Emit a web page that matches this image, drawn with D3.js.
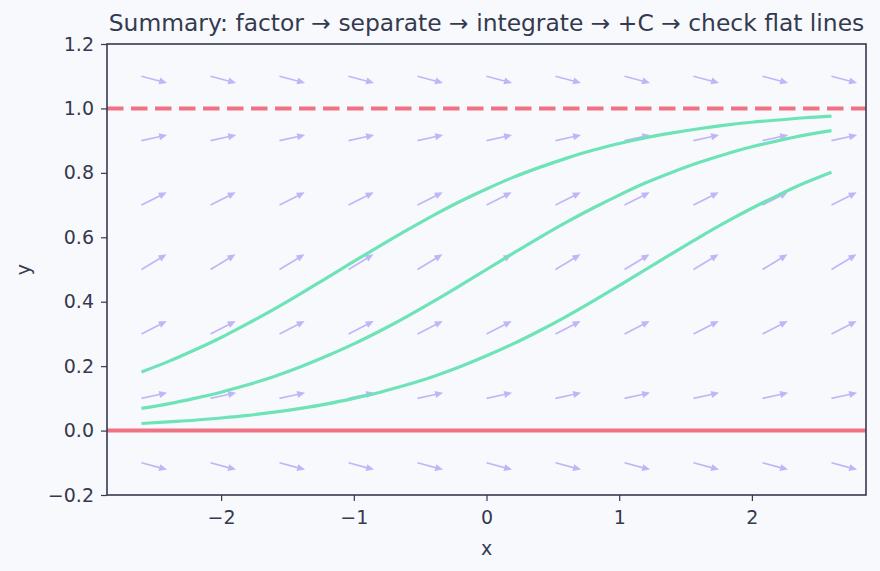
<!DOCTYPE html>
<html>

<head>
    <meta charset="utf-8">
    <title>Logistic slope field</title>
    <script src="https://d3js.org/d3.v7.min.js"></script>
    <style>
        body { margin: 0; background: #f8f9fd; }
        text { font-family: "DejaVu Sans", sans-serif; fill: #343a4f; }
    </style>
</head>

<body>
    <div id='view'></div>

    <script>
        var width = 880;
        var height = 571;
        var mLeft = 107, mRight = 866, mTop = 44, mBottom = 495;

        // sample x positions of the solution curves
        var curveX = [-2.6, -2.4, -2.2, -2.0, -1.8, -1.6, -1.4, -1.2, -1.0, -0.8, -0.6, -0.4, -0.2, 0,
            0.2, 0.4, 0.6, 0.8, 1.0, 1.2, 1.4, 1.6, 1.8, 2.0, 2.2, 2.4, 2.6];
        var curveHigh = [0.182, 0.214, 0.250, 0.289, 0.332, 0.377, 0.425, 0.475, 0.525, 0.574, 0.622, 0.668, 0.711, 0.750,
            0.786, 0.817, 0.845, 0.870, 0.891, 0.909, 0.924, 0.937, 0.948, 0.957, 0.964, 0.971, 0.976];
        var curveMid = [0.069, 0.083, 0.100, 0.119, 0.142, 0.168, 0.198, 0.232, 0.269, 0.310, 0.354, 0.401, 0.450, 0.500,
            0.550, 0.599, 0.646, 0.690, 0.731, 0.769, 0.802, 0.832, 0.858, 0.881, 0.900, 0.917, 0.931];
        var curveLow = [0.022, 0.027, 0.032, 0.039, 0.047, 0.057, 0.069, 0.083, 0.100, 0.119, 0.142, 0.168, 0.198, 0.232,
            0.269, 0.310, 0.354, 0.401, 0.450, 0.500, 0.550, 0.599, 0.646, 0.690, 0.731, 0.769, 0.802];

        // slope field grid
        var fieldX = [-2.6, -2.08, -1.56, -1.04, -0.52, 0, 0.52, 1.04, 1.56, 2.08, 2.6];
        var fieldY = [-0.1, 0.1, 0.3, 0.5, 0.7, 0.9, 1.1];
        var fieldSlope = [-0.11, 0.09, 0.21, 0.25, 0.21, 0.09, -0.11];

        // equilibrium lines
        var flatLines = [0, 1];

        var xTicks = [-2, -1, 0, 1, 2];
        var yTicks = [-0.2, 0, 0.2, 0.4, 0.6, 0.8, 1.0, 1.2];

        var svg = d3.select("#view")
            .append("svg")
            .attr("width", width)
            .attr("height", height);

        svg.append("rect").attr("width", width).attr("height", height).attr("fill", "#f8f9fd");

        var x = d3.scaleLinear().domain([-2.86, 2.86]).range([mLeft, mRight]);
        var y = d3.scaleLinear().domain([-0.2, 1.2]).range([mBottom, mTop]);

        var minus = function (s) { return s.replace("-", "\u2212"); };

        // arrows
        var arrowColor = "#c0b6f7";
        var arrowLen = 0.194;
        var g = svg.append("g");
        fieldY.forEach(function (yv, j) {
            var s = fieldSlope[j];
            var c = 1 / Math.sqrt(1 + s * s);
            fieldX.forEach(function (xv) {
                var x0 = x(xv), y0 = y(yv);
                var x1 = x(xv + arrowLen * c), y1 = y(yv + arrowLen * s * c);
                var dx = x1 - x0, dy = y1 - y0;
                var len = Math.sqrt(dx * dx + dy * dy);
                var ux = dx / len, uy = dy / len;
                var hl = 8, hw = 3.5;
                var bx = x1 - ux * hl, by = y1 - uy * hl;
                g.append("line")
                    .attr("x1", x0).attr("y1", y0)
                    .attr("x2", bx + ux).attr("y2", by + uy)
                    .attr("stroke", arrowColor)
                    .attr("stroke-width", 1.7);
                g.append("path")
                    .attr("d", "M" + x1 + "," + y1 +
                        "L" + (bx - uy * hw) + "," + (by + ux * hw) +
                        "L" + (bx + uy * hw) + "," + (by - ux * hw) + "Z")
                    .attr("fill", arrowColor);
            });
        });

        // solution curves
        var line = d3.line()
            .x(function (d) { return x(d[0]); })
            .y(function (d) { return y(d[1]); })
            .curve(d3.curveMonotoneX);
        [curveHigh, curveMid, curveLow].forEach(function (vals) {
            svg.append("path")
                .datum(curveX.map(function (xv, i) { return [xv, vals[i]]; }))
                .attr("d", line)
                .attr("fill", "none")
                .attr("stroke", "#6ee3b8")
                .attr("stroke-width", 3.2);
        });

        // flat lines
        svg.selectAll(".flat")
            .data(flatLines)
            .enter().append("line")
            .attr("x1", mLeft).attr("x2", mRight)
            .attr("y1", function (d) { return y(d); })
            .attr("y2", function (d) { return y(d); })
            .attr("stroke", "#f07385")
            .attr("stroke-width", 4)
            .attr("stroke-dasharray", function (d) { return d === 1 ? "16.5,7.5" : null; });

        // axes
        var xAxis = svg.append("g")
            .attr("transform", "translate(0," + mBottom + ")")
            .call(d3.axisBottom(x).tickValues(xTicks).tickSize(6).tickPadding(10)
                .tickFormat(function (d) { return minus(d3.format("d")(d)); }));
        var yAxis = svg.append("g")
            .attr("transform", "translate(" + mLeft + ",0)")
            .call(d3.axisLeft(y).tickValues(yTicks).tickSize(6).tickPadding(7)
                .tickFormat(function (d) { return minus(d3.format(".1f")(d)); }));
        [xAxis, yAxis].forEach(function (a) {
            a.select(".domain").remove();
            a.selectAll("line").attr("stroke", "#343a4f").attr("stroke-width", 1.2);
            a.selectAll("text").attr("font-size", 19).style("fill", "#343a4f");
        });

        svg.append("rect")
            .attr("x", mLeft).attr("y", mTop)
            .attr("width", mRight - mLeft).attr("height", mBottom - mTop)
            .attr("fill", "none")
            .attr("stroke", "#343a4f")
            .attr("stroke-width", 1.6);

        svg.append("text")
            .attr("x", (mLeft + mRight) / 2).attr("y", 31)
            .attr("text-anchor", "middle")
            .attr("font-size", 23.4)
            .text("Summary: factor \u2192 separate \u2192 integrate \u2192 +C \u2192 check flat lines");

        svg.append("text")
            .attr("x", (mLeft + mRight) / 2).attr("y", 555)
            .attr("text-anchor", "middle")
            .attr("font-size", 19)
            .text("x");

        svg.append("text")
            .attr("transform", "translate(30," + ((mTop + mBottom) / 2) + ") rotate(-90)")
            .attr("text-anchor", "middle")
            .attr("font-size", 19)
            .text("y");
    </script>

</body>

</html>
